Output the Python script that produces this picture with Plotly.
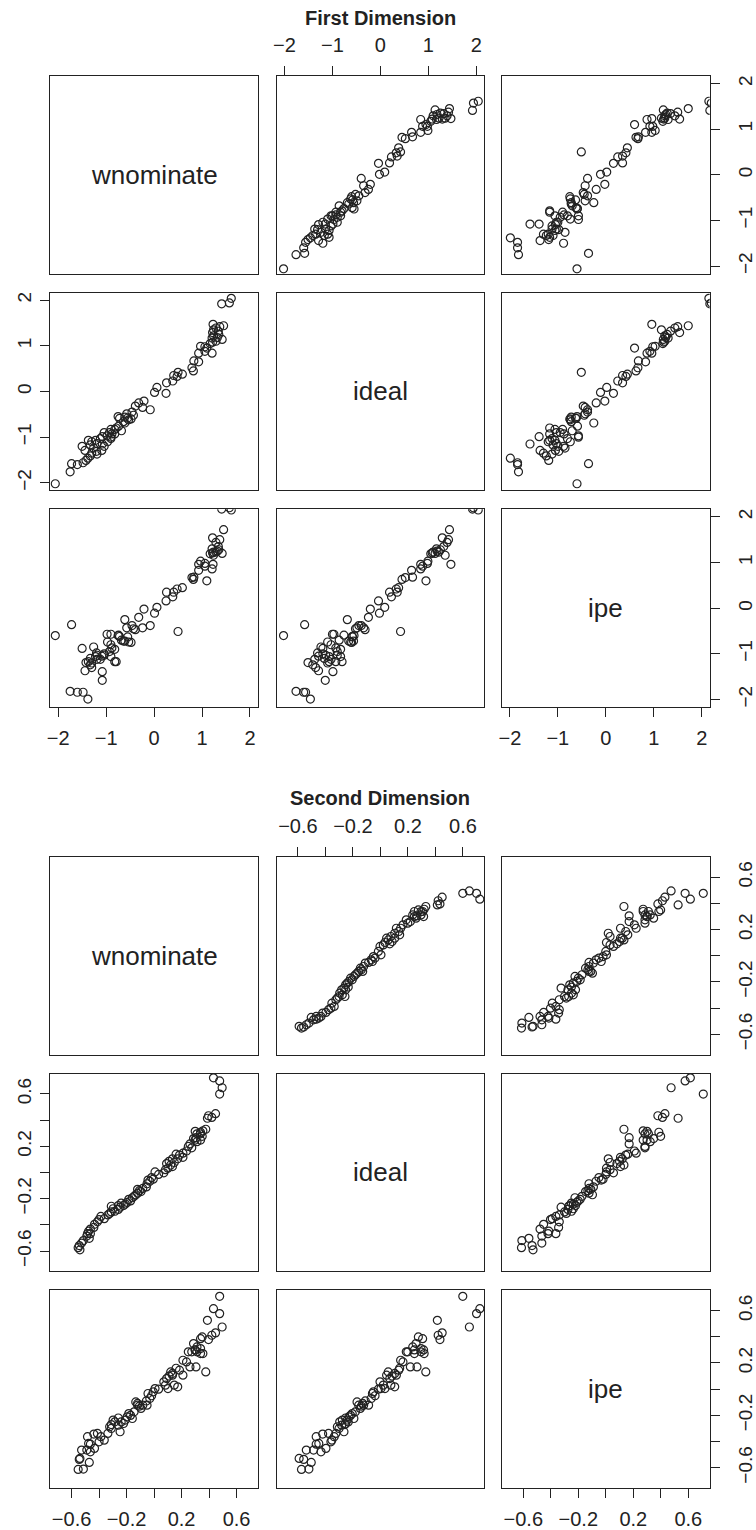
import plotly.graph_objects as go

# ---------------- First Dimension (ideal, wnominate, ipe) ----------------
ideal1 = [-2.02, -1.76, -1.60, -1.58, -1.56, -1.51, -1.46, -1.41, -1.37, -1.35,
          -1.31, -1.29, -1.29, -1.24, -1.20, -1.20, -1.17, -1.15, -1.14, -1.10,
          -1.10, -1.07, -1.07, -1.03, -1.03, -1.00, -0.99, -0.97, -0.93, -0.93,
          -0.90, -0.90, -0.86, -0.83, -0.83, -0.80, -0.76, -0.69, -0.66, -0.62,
          -0.60, -0.59, -0.58, -0.56, -0.55, -0.52, -0.49, -0.45, -0.40, -0.35,
          -0.32, -0.25, -0.21, -0.04, -0.02, 0.09, 0.19, 0.23, 0.33, 0.35,
          0.38, 0.42, 0.45, 0.52, 0.65, 0.67, 0.84, 0.84, 0.88, 0.95,
          0.98, 0.99, 1.05, 1.08, 1.10, 1.14, 1.17, 1.18, 1.22, 1.25,
          1.29, 1.32, 1.35, 1.39, 1.42, 1.44, 1.47, 1.92, 1.94, 2.04]
wnom1 = [-2.06, -1.75, -1.60, -1.72, -1.48, -1.42, -1.38, -1.33, -1.19, -1.30,
         -1.20, -1.44, -1.09, -1.26, -1.50, -1.04, -1.33, -1.08, -1.19, -0.97,
         -1.30, -1.37, -1.22, -1.12, -0.90, -0.90, -1.08, -0.98, -0.82, -0.88,
         -1.04, -0.93, -0.68, -0.90, -0.82, -0.79, -0.74, -0.61, -0.64, -0.53,
         -0.48, -0.72, -0.55, -0.61, -0.75, -0.43, -0.57, -0.46, -0.08, -0.24,
         -0.39, -0.32, -0.21, 0.25, 0.01, 0.06, 0.26, 0.39, 0.48, 0.41,
         0.59, 0.50, 0.82, 0.79, 0.93, 0.83, 1.21, 0.93, 1.06, 1.10,
         1.06, 0.97, 1.17, 1.22, 1.29, 1.42, 1.21, 1.32, 1.24, 1.35,
         1.22, 1.34, 1.24, 1.29, 1.37, 1.45, 1.23, 1.41, 1.57, 1.61]
ipe1 = [-0.60, -1.82, -1.84, -0.36, -1.84, -1.19, -1.99, -1.24, -1.12, -1.30,
        -0.98, -1.37, -1.05, -0.85, -0.88, -1.00, -1.10, -1.58, -1.03, -0.74,
        -1.20, -1.17, -1.06, -1.12, -0.80, -0.57, -1.39, -0.57, -1.17, -0.87,
        -1.03, -0.95, -0.70, -1.06, -0.90, -1.17, -0.59, -0.25, -0.72, -0.74,
        -0.75, -0.62, -0.63, -0.72, -0.60, -0.45, -0.43, -0.38, -0.38, -0.43,
        -0.47, -0.20, -0.02, 0.16, -0.11, 0.02, 0.35, 0.25, 0.42, 0.35,
        0.45, -0.51, 0.63, 0.67, 0.83, 0.68, 0.86, 0.96, 0.92, 0.60,
        0.98, 1.03, 1.19, 1.21, 1.23, 1.20, 1.30, 1.25, 1.23, 1.28,
        1.54, 1.35, 1.16, 1.44, 1.50, 1.72, 0.96, 2.17, 2.20, 2.15]

# ---------------- Second Dimension (ideal, wnominate, ipe) ----------------
ideal2 = [-0.591, -0.574, -0.558, -0.539, -0.520, -0.503, -0.486, -0.467, -0.467, -0.448,
          -0.432, -0.420, -0.396, -0.377, -0.360, -0.353, -0.336, -0.324, -0.313, -0.301,
          -0.296, -0.282, -0.277, -0.265, -0.258, -0.253, -0.253, -0.241, -0.234, -0.229,
          -0.217, -0.205, -0.193, -0.182, -0.170, -0.158, -0.146, -0.139, -0.129, -0.122,
          -0.110, -0.086, -0.067, -0.058, -0.051, -0.039, -0.015, -0.003, 0.004, 0.021,
          0.033, 0.045, 0.057, 0.068, 0.076, 0.085, 0.104, 0.104, 0.116, 0.133,
          0.140, 0.147, 0.164, 0.188, 0.199, 0.218, 0.235, 0.247, 0.247, 0.259,
          0.266, 0.276, 0.295, 0.295, 0.307, 0.314, 0.318, 0.330, 0.414, 0.420,
          0.433, 0.449, 0.599, 0.647, 0.699, 0.723]
wnom2 = [-0.539, -0.552, -0.544, -0.527, -0.514, -0.471, -0.489, -0.484, -0.463, -0.476,
         -0.463, -0.438, -0.433, -0.412, -0.400, -0.362, -0.387, -0.336, -0.323, -0.311,
         -0.285, -0.260, -0.298, -0.247, -0.311, -0.222, -0.260, -0.209, -0.239, -0.196,
         -0.171, -0.184, -0.158, -0.145, -0.133, -0.120, -0.095, -0.107, -0.120, -0.082,
         -0.056, -0.051, -0.031, -0.044, -0.006, -0.018, 0.033, 0.071, 0.007, 0.083,
         0.101, 0.134, 0.121, 0.091, 0.147, 0.109, 0.172, 0.134, 0.210, 0.185,
         0.160, 0.210, 0.236, 0.274, 0.249, 0.261, 0.312, 0.338, 0.299, 0.287,
         0.305, 0.350, 0.312, 0.338, 0.338, 0.299, 0.355, 0.376, 0.388, 0.420,
         0.396, 0.447, 0.477, 0.495, 0.477, 0.432]
ipe2 = [-0.529, -0.613, -0.536, -0.465, -0.610, -0.559, -0.465, -0.363, -0.420, -0.414,
        -0.478, -0.343, -0.452, -0.338, -0.402, -0.389, -0.363, -0.338, -0.287, -0.300,
        -0.249, -0.275, -0.236, -0.325, -0.270, -0.262, -0.220, -0.236, -0.250, -0.211,
        -0.200, -0.186, -0.224, -0.173, -0.097, -0.122, -0.147, -0.130, -0.109, -0.122,
        -0.090, -0.122, -0.071, -0.033, -0.020, -0.050, 0.000, 0.056, 0.005, 0.031,
        0.005, 0.107, 0.132, 0.081, 0.031, 0.100, 0.018, 0.120, 0.107, 0.145,
        0.160, 0.221, 0.208, 0.285, 0.285, 0.170, 0.323, 0.272, 0.300, 0.348,
        0.170, 0.399, 0.285, 0.310, 0.386, 0.300, 0.272, 0.132, 0.526, 0.412,
        0.379, 0.430, 0.709, 0.475, 0.577, 0.615]

var_names = ["wnominate", "ideal", "ipe"]
titles = ["First Dimension", "Second Dimension"]
tickvals1 = [-2, -1, 0, 1, 2]
ticktext1 = ["\u22122", "\u22121", "0", "1", "2"]
tickvals2 = [-0.6, -0.4, -0.2, 0.0, 0.2, 0.4, 0.6]
ticktext2 = ["\u22120.6", "", "\u22120.2", "", "0.2", "", "0.6"]
range1 = [-2.165, 2.165]
range2 = [-0.755, 0.755]

# ---------------- layout geometry (pixels) ----------------
W, H = 756, 1530
col_px = [(48, 259), (278, 489), (507, 718)]
row_px = [[(75, 273), (292, 490), (509, 707)],
          [(857, 1055), (1074, 1272), (1291, 1489)]]
title_px = [17, 798]
FONT = "Liberation Sans, Arial, Helvetica, sans-serif"

matrices = [
    dict(vars=[wnom1, ideal1, ipe1], tv=tickvals1, tt=ticktext1, rng=range1),
    dict(vars=[wnom2, ideal2, ipe2], tv=tickvals2, tt=ticktext2, rng=range2),
]

fig = go.Figure()
layout = {}
annotations = []

for m, mat in enumerate(matrices):
    for r in range(3):
        for c in range(3):
            idx = m * 9 + r * 3 + c + 1
            xa = "x" if idx == 1 else f"x{idx}"
            ya = "y" if idx == 1 else f"y{idx}"
            xk = "xaxis" if idx == 1 else f"xaxis{idx}"
            yk = "yaxis" if idx == 1 else f"yaxis{idx}"
            x0, x1 = col_px[c]
            y0, y1 = row_px[m][r]
            base = dict(showline=True, mirror=True, linecolor="#222", linewidth=1,
                        showgrid=False, zeroline=False, range=mat["rng"],
                        tickvals=mat["tv"], ticktext=mat["tt"],
                        tickfont=dict(family=FONT, size=20, color="#222"),
                        ticks="", showticklabels=False, ticklen=9,
                        tickcolor="#222", tickwidth=1, fixedrange=True)
            xax = dict(base, domain=[x0 / W, x1 / W], anchor=ya)
            yax = dict(base, domain=[1 - y1 / H, 1 - y0 / H], anchor=xa,
                       tickangle=-90,
                       tickfont=dict(family=FONT, size=19, color="#222"))
            if r == 0 and c == 1:
                xax.update(side="top", ticks="outside", showticklabels=True,
                           ticklabelstandoff=6)
            if r == 2 and c in (0, 2):
                xax.update(side="bottom", ticks="outside", showticklabels=True,
                           ticklabelstandoff=4)
            if c == 0 and r == 1:
                yax.update(side="left", ticks="outside", showticklabels=True,
                           ticklabelstandoff=2)
            if c == 2 and r in (0, 2):
                yax.update(side="right", ticks="outside", showticklabels=True,
                           ticklabelstandoff=10)
            layout[xk] = xax
            layout[yk] = yax
            if r == c:
                fig.add_trace(go.Scatter(x=[], y=[], xaxis=xa, yaxis=ya,
                                         mode="markers", showlegend=False))
                annotations.append(dict(
                    text=var_names[r], xref="paper", yref="paper",
                    x=(x0 + x1) / 2 / W, y=1 - (y0 + y1) / 2 / H,
                    showarrow=False, xanchor="center", yanchor="middle",
                    font=dict(family=FONT, size=26, color="#222")))
            else:
                fig.add_trace(go.Scatter(
                    x=mat["vars"][c], y=mat["vars"][r], xaxis=xa, yaxis=ya,
                    mode="markers", showlegend=False, hoverinfo="skip",
                    marker=dict(symbol="circle-open", size=8, color="#222",
                                line=dict(width=1.2, color="#222"))))
    annotations.append(dict(
        text="<b>" + titles[m] + "</b>", xref="paper", yref="paper",
        x=sum(col_px[1]) / 2 / W, y=1 - title_px[m] / H,
        showarrow=False, xanchor="center", yanchor="middle",
        font=dict(family=FONT, size=20, color="#222")))

fig.update_layout(**layout)
fig.update_layout(width=W, height=H, margin=dict(l=0, r=0, t=0, b=0),
                  paper_bgcolor="white", plot_bgcolor="white",
                  annotations=annotations, showlegend=False)
fig.write_html("out.html")
